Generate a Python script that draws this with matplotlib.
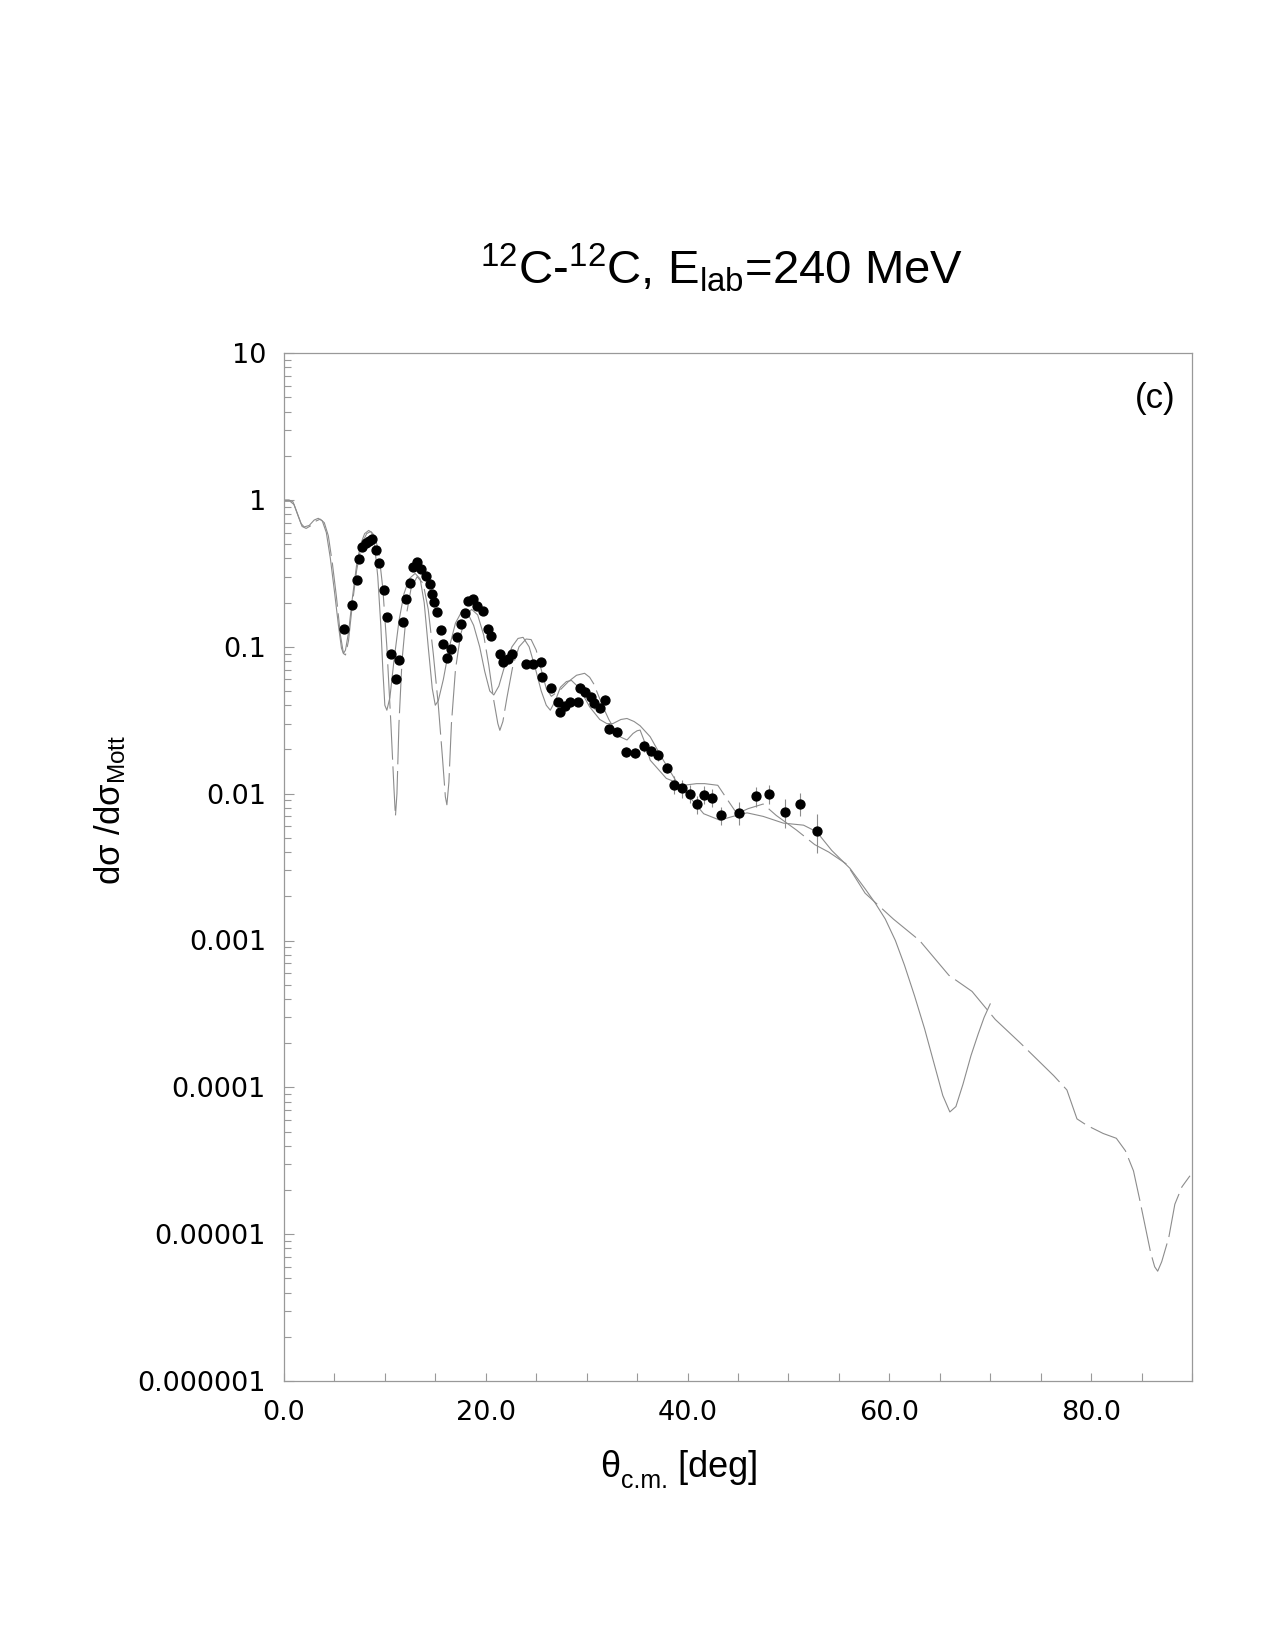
import matplotlib
matplotlib.use("Agg")
import matplotlib.pyplot as plt
from matplotlib.ticker import FixedLocator, MultipleLocator, LogLocator, NullFormatter

plt.rcParams["font.family"] = ["Liberation Sans", "DejaVu Sans"]
plt.rcParams["mathtext.default"] = "regular"

# --- measured data (theta_cm in deg, ratio to Mott) ---
theta_exp = [5.98, 6.71, 7.27, 7.43, 7.73, 8.13, 8.39, 8.72, 9.09, 9.45,
             9.88, 10.21, 10.60, 11.10, 11.40, 11.76, 12.06, 12.49, 12.75, 13.18,
             13.61, 14.11, 14.44, 14.64, 14.87, 15.16, 15.59, 15.79, 16.19, 16.55,
             17.15, 17.57, 17.91, 18.27, 18.76, 19.13, 19.76, 20.25, 20.55, 21.38,
             21.74, 22.23, 22.60, 23.98, 24.71, 25.44, 25.57, 26.43, 27.16, 27.38,
             27.85, 28.34, 29.11, 29.37, 29.83, 30.39, 30.75, 31.35, 31.81, 32.24,
             33.00, 33.86, 34.79, 35.71, 36.37, 37.10, 37.93, 38.68, 39.44, 40.27,
             40.90, 41.59, 42.45, 43.28, 45.12, 46.81, 48.10, 49.68, 51.17, 52.79]
sig_exp = [0.133, 0.194, 0.284, 0.394, 0.481, 0.506, 0.525, 0.545, 0.458, 0.374,
           0.243, 0.160, 0.0898, 0.0607, 0.0817, 0.148, 0.210, 0.273, 0.349, 0.378,
           0.340, 0.302, 0.268, 0.230, 0.202, 0.173, 0.130, 0.105, 0.0839, 0.0966,
           0.116, 0.143, 0.171, 0.206, 0.211, 0.190, 0.176, 0.133, 0.118, 0.0898,
           0.0787, 0.0822, 0.0898, 0.0764, 0.0764, 0.0793, 0.0627, 0.0527, 0.0423, 0.0361,
           0.0397, 0.0423, 0.0423, 0.0525, 0.0495, 0.0457, 0.0412, 0.0385, 0.0437, 0.0275,
           0.0264, 0.0193, 0.0190, 0.0210, 0.0196, 0.0182, 0.0150, 0.0115, 0.0109, 0.0100,
           0.00847, 0.00985, 0.00939, 0.00713, 0.00743, 0.00960, 0.0100, 0.00753, 0.00855, 0.00560]
rel_err = [0.05] * 53 + [0.08] * 14 + [0.14] * 7 + [0.18, 0.15, 0.15, 0.22, 0.18, 0.30]

# --- calculation 1 (solid) ---
theta_a = [0.0, 0.5, 0.9, 1.3, 1.7, 2.0, 2.5, 3.0, 3.4, 3.8, 4.2, 4.6, 5.0, 5.4, 5.7, 5.9,
           6.1, 6.4, 6.8, 7.2, 7.6, 8.0, 8.4, 8.7, 9.0, 9.3, 9.6, 9.8, 10.0, 10.2, 10.5,
           10.9, 11.4, 11.9, 12.4, 13.0, 13.5, 13.9, 14.3, 14.7, 15.0, 15.3, 15.8, 16.4,
           17.0, 17.6, 18.2, 18.8, 19.4, 19.9, 20.4, 20.8, 21.3, 21.9, 22.6, 23.2, 23.7,
           24.3, 24.9, 25.5, 26.0, 26.4, 26.9, 27.4, 28.0, 28.5, 29.2, 29.8, 30.3, 31.3,
           32.0, 32.6, 33.4, 34.0, 34.7, 35.3, 36.3, 37.6, 38.8, 40.2, 41.6, 43.2, 44.5,
           45.9, 47.5, 49.5, 51.5, 52.8, 54.3, 56.1, 57.6, 58.6, 59.6, 60.6, 61.5, 62.5,
           63.5, 64.5, 65.3, 66.0, 66.6, 67.3, 68.1, 68.8, 69.4, 70.0]
sig_a = [1.00, 1.00, 0.97, 0.82, 0.69, 0.655, 0.67, 0.73, 0.75, 0.72, 0.60, 0.40, 0.24, 0.14, 0.098, 0.090,
         0.095, 0.125, 0.22, 0.36, 0.50, 0.59, 0.62, 0.60, 0.48, 0.30, 0.14, 0.07, 0.040, 0.037, 0.045,
         0.08, 0.15, 0.23, 0.29, 0.316, 0.29, 0.20, 0.10, 0.052, 0.040, 0.043, 0.06, 0.10,
         0.145, 0.173, 0.17, 0.14, 0.10, 0.068, 0.050, 0.047, 0.054, 0.075, 0.100, 0.114, 0.116,
         0.10, 0.072, 0.050, 0.040, 0.037, 0.043, 0.053, 0.058, 0.059, 0.053, 0.045, 0.039, 0.032,
         0.030, 0.030, 0.032, 0.0325, 0.031, 0.029, 0.0244, 0.0169, 0.0124, 0.0095, 0.0073, 0.0066, 0.0070,
         0.0074, 0.0070, 0.0063, 0.0061, 0.0055, 0.0041, 0.0031, 0.00225, 0.0018, 0.0014, 0.0010, 0.00068, 0.00042,
         0.00025, 0.000140, 0.000088, 0.000068, 0.000074, 0.000105, 0.000165, 0.00023, 0.00030, 0.00037]

# --- calculation 2 (dashed) ---
theta_b = [0.0, 0.6, 1.0, 1.4, 1.8, 2.2, 2.7, 3.2, 3.6, 4.0, 4.4, 4.8, 5.2, 5.6, 5.9, 6.1,
           6.4, 6.8, 7.2, 7.7, 8.2, 8.6, 9.0, 9.4, 9.8, 10.2, 10.6, 10.9, 11.05, 11.2, 11.4,
           11.7, 12.1, 12.6, 13.2, 13.8, 14.3, 14.8, 15.3, 15.7, 16.0, 16.15, 16.35, 16.6,
           17.0, 17.5, 18.0, 18.6, 19.2, 19.8, 20.3, 20.8, 21.2, 21.4, 21.7, 22.1, 22.7,
           23.3, 24.0, 24.5, 25.0, 25.5, 26.0, 26.5, 27.4, 28.2, 29.0, 29.8, 30.3, 30.7,
           31.2, 31.7, 32.2, 32.6, 33.3, 34.0, 34.6, 35.0, 35.3, 35.8, 36.3, 37.9, 39.6,
           40.9, 41.7, 43.0, 44.0, 44.9, 46.0, 47.5, 48.8, 50.8, 52.6, 54.0, 55.8, 57.6,
           60.4, 63.0, 65.9, 68.2, 70.5, 73.0, 76.3, 77.6, 78.6, 79.6, 81.2, 82.5, 83.4,
           84.2, 84.8, 85.4, 85.9, 86.3, 86.6, 87.0, 87.7, 88.3, 89.0, 89.8]
sig_b = [0.98, 0.98, 0.93, 0.78, 0.66, 0.64, 0.67, 0.72, 0.74, 0.70, 0.57, 0.37, 0.22, 0.12, 0.090, 0.088,
         0.11, 0.20, 0.33, 0.50, 0.59, 0.61, 0.57, 0.44, 0.25, 0.10, 0.03, 0.011, 0.0070, 0.010, 0.03,
         0.08, 0.16, 0.25, 0.30, 0.27, 0.18, 0.09, 0.04, 0.018, 0.0095, 0.0084, 0.012, 0.03,
         0.07, 0.12, 0.16, 0.18, 0.165, 0.12, 0.075, 0.043, 0.030, 0.027, 0.031, 0.045, 0.075,
         0.10, 0.113, 0.112, 0.095, 0.07, 0.052, 0.046, 0.051, 0.058, 0.064, 0.066, 0.062, 0.056,
         0.046, 0.038, 0.032, 0.0286, 0.0244, 0.0232, 0.0257, 0.0268, 0.0271, 0.022, 0.0169, 0.0127, 0.0114,
         0.0117, 0.0117, 0.0114, 0.0090, 0.0073, 0.0079, 0.0085, 0.0071, 0.00565, 0.0045, 0.0040, 0.0033, 0.0021,
         0.0014, 0.0010, 0.00058, 0.00045, 0.00029, 0.00020, 0.00012, 0.000096, 0.000061, 0.000055, 0.0000485, 0.000045, 0.000037,
         0.000027, 0.0000174, 0.000011, 0.0000075, 0.000006, 0.0000056, 0.0000065, 0.0000095, 0.000016, 0.000021, 0.000025]

yticks = [1e1, 1e0, 1e-1, 1e-2, 1e-3, 1e-4, 1e-5, 1e-6]
ytick_labels = ["10", "1", "0.1", "0.01", "0.001", "0.0001", "0.00001", "0.000001"]
xticks = [0, 20, 40, 60, 80]
xtick_labels = ["0.0", "20.0", "40.0", "60.0", "80.0"]

fig = plt.figure(figsize=(12.75, 16.5), dpi=100)
ax = fig.add_axes([0.2227, 0.163, 0.7122, 0.623])

ax.plot(theta_a, sig_a, "-", color="#8c8c8c", lw=0.8)
ax.plot(theta_b, sig_b, color="#8c8c8c", lw=0.8, dashes=(40, 6))
yerr = [s * e for s, e in zip(sig_exp, rel_err)]
ax.errorbar(theta_exp, sig_exp, yerr=yerr, fmt="o", color="black", ms=6.4,
            ecolor="#8c8c8c", elinewidth=0.8, capsize=0, zorder=3)

ax.set_yscale("log")
ax.set_ylim(1e-6, 10)
ax.set_xlim(0, 90)
ax.yaxis.set_major_locator(FixedLocator(yticks))
ax.set_yticklabels(ytick_labels, fontsize=19.5, family="DejaVu Sans")
ax.yaxis.set_minor_locator(LogLocator(base=10, subs=range(2, 10), numticks=20))
ax.yaxis.set_minor_formatter(NullFormatter())
ax.set_xticks(xticks)
ax.set_xticklabels(xtick_labels, fontsize=19.5, family="DejaVu Sans")
ax.xaxis.set_minor_locator(MultipleLocator(5))
ax.tick_params(axis="both", which="both", direction="in", color="#999999", width=0.8)
ax.tick_params(axis="y", which="major", length=7, pad=13)
ax.tick_params(axis="y", which="minor", length=5)
ax.tick_params(axis="x", which="major", length=6, pad=14)
ax.tick_params(axis="x", which="minor", length=6)
for sp in ax.spines.values():
    sp.set_color("#999999")
    sp.set_linewidth(0.9)

ax.text(0.959, 0.956, "(c)", transform=ax.transAxes, fontsize=25, ha="center", va="center")
fig.text(0.566, 0.838, "$^{12}$C-$^{12}$C, E$_{lab}$=240 MeV", fontsize=34, ha="center", va="center")
fig.text(0.0866, 0.509, "d\u03c3 /d\u03c3$_{Mott}$", fontsize=25, rotation=90, ha="center", va="center")

# x label in pieces so the subscript "c.m." keeps tight spacing
t1 = fig.text(0.4705, 0.100, "\u03b8", fontsize=26, ha="left", va="bottom")
t2 = ax.annotate("c.m.", xy=(1, 0), xycoords=t1, xytext=(0.5, -6), textcoords="offset points",
                 fontsize=18, ha="left", va="bottom", annotation_clip=False)
ax.annotate(" [deg]", xy=(1, 0), xycoords=t2, xytext=(0, 6), textcoords="offset points",
            fontsize=26, ha="left", va="bottom", annotation_clip=False)

fig.savefig("out.png", dpi=100)
